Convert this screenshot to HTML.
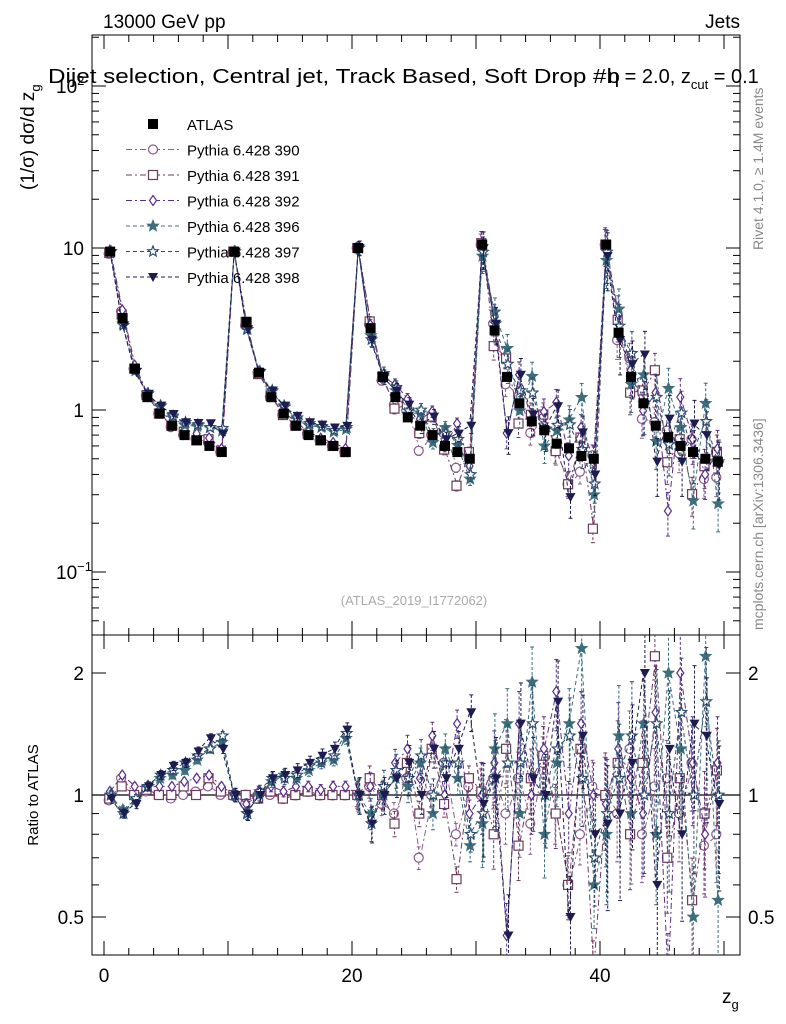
<!DOCTYPE html>
<html><head><meta charset="utf-8">
<style>
body{margin:0;background:#fff;}
svg{display:block;font-family:"Liberation Sans",sans-serif;}
</style></head>
<body>
<svg id="chart" width="786" height="1024" viewBox="0 0 786 1024" xmlns="http://www.w3.org/2000/svg">
<defs>
<clipPath id="clipMain"><rect x="92" y="35" width="648" height="600"/></clipPath>
<clipPath id="clipRatio"><rect x="92" y="635" width="648" height="320"/></clipPath>
</defs>
<rect x="92" y="35" width="648" height="600" fill="none" stroke="#000" stroke-width="1"/>
<rect x="92" y="635" width="648" height="320" fill="none" stroke="#000" stroke-width="1"/>
<text x="103" y="28" font-size="19">13000 GeV pp</text>
<text x="740" y="28" font-size="19" text-anchor="end">Jets</text>
<text x="48" y="83" font-size="20" textLength="572" lengthAdjust="spacingAndGlyphs">Dijet selection, Central jet, Track Based, Soft Drop #b</text>
<text x="608" y="83" font-size="20">η = 2.0, z<tspan font-size="13" dy="6">cut</tspan><tspan dy="-6"> = 0.1</tspan></text>
<text transform="translate(34,190) rotate(-90)" font-size="19">(1/σ) dσ/d z<tspan font-size="13" dy="6">g</tspan></text>
<text transform="translate(38,795) rotate(-90)" font-size="15" text-anchor="middle">Ratio to ATLAS</text>
<text x="722" y="1003" font-size="19">z<tspan font-size="13" dy="6">g</tspan></text>
<text transform="translate(763,250) rotate(-90)" font-size="14" fill="#888">Rivet 4.1.0, ≥ 1.4M events</text>
<text transform="translate(763,630) rotate(-90)" font-size="14" fill="#888">mcplots.cern.ch [arXiv:1306.3436]</text>
<text x="414" y="605" font-size="13" fill="#aaa" text-anchor="middle">(ATLAS_2019_I1772062)</text>
<g id="axes"></g>
<g id="mainMarks" clip-path="url(#clipMain)"></g>
<g id="ratioMarks" clip-path="url(#clipRatio)"></g>
<g id="legend"></g>
</svg>
<script>
const binCenters=[0.5,1.5,2.5,3.5,4.5,5.5,6.5,7.5,8.5,9.5,10.5,11.5,12.5,13.5,14.5,15.5,16.5,17.5,18.5,19.5,20.5,21.5,22.5,23.5,24.5,25.5,26.5,27.5,28.5,29.5,30.5,31.5,32.5,33.5,34.5,35.5,36.5,37.5,38.5,39.5,40.5,41.5,42.5,43.5,44.5,45.5,46.5,47.5,48.5,49.5];
const atlas=[9.5,3.7,1.8,1.2,0.95,0.8,0.7,0.65,0.6,0.55, 9.5,3.5,1.7,1.2,0.95,0.8,0.7,0.65,0.6,0.55, 10,3.2,1.6,1.2,0.9,0.8,0.7,0.6,0.55,0.5, 10.5,3.1,1.6,1.1,0.85,0.75,0.62,0.58,0.52,0.5, 10.5,3.0,1.6,1.1,0.8,0.68,0.6,0.55,0.5,0.48];
const r390=[0.97,1.1,1.0,1.02,1.0,0.98,1.0,1.02,1.05,1.0, 1.0,0.95,1.0,1.0,0.98,1.0,1.02,1.0,1.0,1.0, 1.0,1.05,0.95,0.9,1.1,0.7,1.0,1.2,0.8,1.05, 1.0,1.1,0.9,1.1,0.85,1.2,0.9,0.6,0.8,1.05, 1.0,0.9,1.3,0.8,1.05,1.1,0.9,1.2,0.75,0.8];
const r391=[0.98,1.05,1.0,1.03,1.0,1.0,1.05,1.0,1.1,1.02, 1.0,1.0,0.98,1.02,0.98,1.0,1.02,1.0,1.0,1.0, 1.0,1.1,1.0,0.85,1.2,0.9,1.3,0.95,0.62,1.1, 1.02,0.8,1.3,0.75,1.1,1.25,0.9,0.6,1.3,0.37, 1.0,1.2,0.8,1.2,2.2,0.7,1.1,0.55,0.9,1.15];
const r392=[1.02,1.12,1.05,1.05,1.05,1.05,1.08,1.1,1.12,1.05, 1.0,0.95,1.02,1.05,1.02,1.05,1.05,1.03,1.05,1.05, 1.0,1.05,1.0,1.2,1.3,1.1,1.4,1.0,1.5,0.9, 1.0,1.2,0.45,1.5,1.0,1.3,1.8,0.9,1.5,1.0, 0.95,1.3,1.1,0.9,1.6,0.35,2.0,1.2,0.8,1.2];
const r396=[1.0,0.92,0.97,1.05,1.1,1.12,1.15,1.22,1.3,1.35, 1.0,0.9,1.0,1.08,1.12,1.1,1.15,1.2,1.22,1.38, 1.0,0.9,1.0,1.1,1.05,1.2,0.9,1.3,1.1,0.75, 0.85,1.3,1.5,0.9,1.9,0.8,1.2,1.5,2.3,0.6, 0.8,1.4,0.9,1.5,0.8,2.0,1.3,0.5,2.2,0.55];
const r397=[1.0,0.9,0.98,1.05,1.12,1.15,1.2,1.25,1.3,1.4, 1.0,0.9,1.02,1.1,1.1,1.12,1.18,1.22,1.25,1.42, 1.0,0.85,1.05,1.15,1.1,1.25,1.0,1.2,1.2,0.8, 0.9,1.1,1.2,1.2,1.5,1.0,1.3,1.4,1.1,0.7, 0.9,1.1,1.4,1.0,1.5,0.9,1.6,1.0,1.7,1.0];
const r398=[0.98,0.9,0.95,1.05,1.12,1.18,1.2,1.28,1.38,1.3, 1.0,0.9,1.0,1.1,1.12,1.15,1.2,1.25,1.3,1.45, 1.0,0.85,1.0,1.1,1.2,1.0,1.3,1.1,1.3,1.6, 0.95,1.1,0.45,1.5,1.1,1.0,1.7,0.5,1.4,0.8, 0.85,0.9,1.2,2.0,0.6,1.3,0.8,1.5,1.4,0.95];
const errByDecade=[0.02,0.03,0.08,0.2,0.3];
const seriesNames=["Pythia 6.428 390","Pythia 6.428 391","Pythia 6.428 392","Pythia 6.428 396","Pythia 6.428 397","Pythia 6.428 398"];
const xTickLabels=["0","20","40"];
const ratioTicks=[0.5,1,2];

const NS="http://www.w3.org/2000/svg";
const X=v=>104+(v)*12.4;
const YM=v=>410-Math.log10(v)*162;
const YR=v=>795-Math.log2(v)*122;
function el(tag,attrs,parent){const e=document.createElementNS(NS,tag);for(const k in attrs)e.setAttribute(k,attrs[k]);parent.appendChild(e);return e;}
const axes=document.getElementById('axes');
for(let v=0;v<=51;v+=2){
  const major=v%10===0;const len=major?14:7;
  for(const [y0,dir] of [[955,-1],[635,1],[635,-1],[35,1]]){
    const t=el('line',{x1:X(v),x2:X(v),y1:y0,y2:y0+dir*len,stroke:'#000'},axes);
    
    
  }
}
xTickLabels.forEach(s=>{const t=el('text',{x:X(+s),y:982,'font-size':19,'text-anchor':'middle'},axes);t.textContent=s;

});
for(let d=-2;d<=2;d++){for(let m=1;m<10;m++){const v=m*Math.pow(10,d);const y=YM(v);if(y<35||y>635)continue;
  const len=m===1?14:7;
  const a=el('line',{x1:92,x2:92+len,y1:y,y2:y,stroke:'#000'},axes);
  
  
  const b=el('line',{x1:740,x2:740-len,y1:y,y2:y,stroke:'#000'},axes);
  
  }}
[["1",1],["10",10]].forEach(([s,v])=>{const t=el('text',{x:84,y:YM(v)+7,'font-size':19,'text-anchor':'end'},axes);t.textContent=s;

});
{const t=el('text',{x:56,y:YM(0.1)+7,'font-size':19},axes);t.innerHTML='10<tspan font-size="13" dy="-8">−1</tspan>';

}
{const t=el('text',{x:56,y:YM(100)+7,'font-size':19},axes);t.innerHTML='10<tspan font-size="13" dy="-8">2</tspan>';

}
[0.5,0.6,0.7,0.8,0.9,1,2].forEach(v=>{const y=YR(v);const len=(v===0.5||v===1||v===2)?14:7;
  const a=el('line',{x1:92,x2:92+len,y1:y,y2:y,stroke:'#000'},axes);
  
  
  const b=el('line',{x1:740,x2:740-len,y1:y,y2:y,stroke:'#000'},axes);
  
  });
ratioTicks.forEach(v=>{const s=String(v);
  const a=el('text',{x:84,y:YR(v)+7,'font-size':19,'text-anchor':'end'},axes);a.textContent=s;
  
  
  const b=el('text',{x:748,y:YR(v)+7,'font-size':19},axes);b.textContent=s;
  
  });
{const l=el('line',{x1:92,x2:740,y1:YR(1),y2:YR(1),stroke:'#000','stroke-width':1.3},axes);

}

function marker(type,x,y,color,parent){
  let m;
  const o={stroke:color,'stroke-width':1.2,fill:'none'};
  if(type==='fsq'){m=el('rect',{x:x-5,y:y-5,width:10,height:10,fill:'#000'},parent);}
  else if(type==='circ'){m=el('circle',Object.assign({cx:x,cy:y,r:4.5},o),parent);m.setAttribute('fill','#fff');}
  else if(type==='sq'){m=el('rect',Object.assign({x:x-4.5,y:y-4.5,width:9,height:9},o),parent);m.setAttribute('fill','#fff');}
  else if(type==='dia'){m=el('polygon',Object.assign({points:`${x},${y-5} ${x+3.5},${y} ${x},${y+5} ${x-3.5},${y}`},o),parent);m.setAttribute('fill','#fff');}
  else if(type==='star'||type==='ostar'){let p=[];for(let i=0;i<10;i++){const r=i%2?2.4:5.5;const a=-Math.PI/2+i*Math.PI/5;p.push((x+r*Math.cos(a)).toFixed(1)+','+(y+r*Math.sin(a)).toFixed(1));}
    m=el('polygon',Object.assign({points:p.join(' ')},o),parent);m.setAttribute('fill',type==='star'?color:'#fff');}
  else if(type==='tri'){m=el('polygon',{points:`${x-5},${y-4} ${x+5},${y-4} ${x},${y+5}`,fill:color},parent);}
  return m;
}
const ratios=[r390,r391,r392,r396,r397,r398];
const colors=['#8a5a8a','#6e3a5c','#5a2d8c','#3c6e7c','#2d4e70','#1c1c50'];
const types=['circ','sq','dia','star','ostar','tri'];
const dashes=['6,3,2,3','6,3,2,3','6,3,2,3','4,3','4,3','4,3'];
const mainG=document.getElementById('mainMarks'), ratioG=document.getElementById('ratioMarks');
ratios.forEach((r,s)=>{
  const col=colors[s];
  const vals=atlas.map((a,i)=>a*r[i]);
  const gm=el('g',{},mainG);
  
  
  const gr=el('g',{},ratioG);
  
  
  const pm=binCenters.map((c,i)=>X(c).toFixed(1)+','+YM(vals[i]).toFixed(1)).join(' ');
  const pr=binCenters.map((c,i)=>X(c).toFixed(1)+','+YR(r[i]).toFixed(1)).join(' ');
  el('polyline',{points:pm,fill:'none',stroke:col,'stroke-width':1,'stroke-dasharray':dashes[s]},gm);
  el('polyline',{points:pr,fill:'none',stroke:col,'stroke-width':1,'stroke-dasharray':dashes[s]},gr);
  binCenters.forEach((c,i)=>{
    const e=errByDecade[Math.floor(i/10)]*(0.8+0.1*s);
    const x=X(c)+(s-2.5)*0.6;
    [[gm,vals[i],YM],[gr,r[i],YR]].forEach(([g,v,Y])=>{
      const y1=Y(v*(1+e)),y2=Y(Math.max(v*(1-e),0.01));
      el('line',{x1:x,x2:x,y1:y1,y2:y2,stroke:col,'stroke-dasharray':'3,2'},g);
      el('line',{x1:x-2,x2:x+2,y1:y1,y2:y1,stroke:col},g);
      el('line',{x1:x-2,x2:x+2,y1:y2,y2:y2,stroke:col},g);
      const m=marker(types[s],x,Y(v),col,g);
      
      
    });
  });
});
{const g=el('g',{},mainG);


binCenters.forEach((c,i)=>{const m=marker('fsq',X(c),YM(atlas[i]),'#000',g);

});}
const leg=document.getElementById('legend');
const legNames=['ATLAS'].concat(seriesNames);
legNames.forEach((n,i)=>{
  const y=124+i*25.5;
  const g=el('g',{},leg);
  
  
  if(i===0){marker('fsq',153,y,'#000',g);}
  else{const col=colors[i-1];
    el('line',{x1:126,x2:180,y1:y,y2:y,stroke:col,'stroke-dasharray':dashes[i-1]},g);
    marker(types[i-1],153,y,col,g);}
  const t=el('text',{x:187,y:y+6,'font-size':15},g);t.textContent=n;
});
</script>
</body></html>
